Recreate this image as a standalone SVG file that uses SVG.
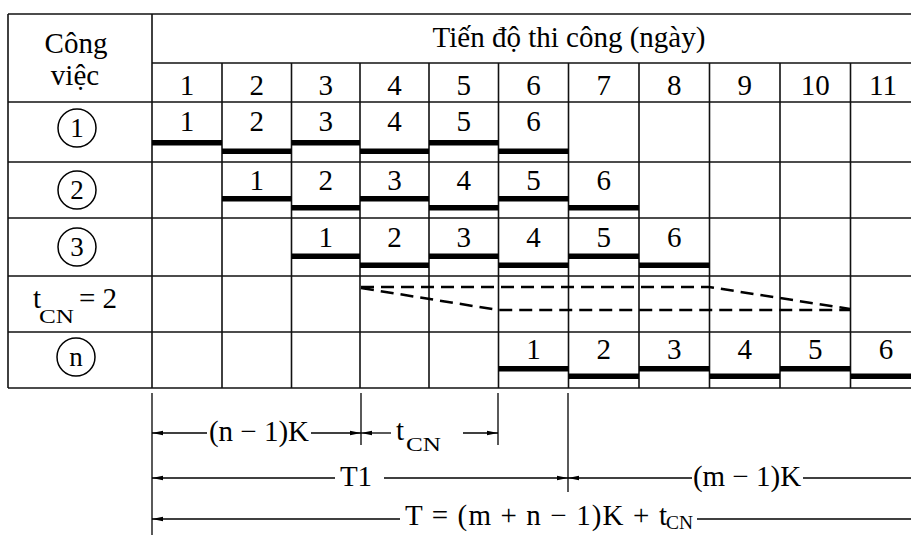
<svg xmlns="http://www.w3.org/2000/svg" width="911" height="535" viewBox="0 0 911 535">
<defs>
<style>
.grid{stroke:#111;stroke-width:1.6;fill:none}
.bar{fill:#000}
.t{font-family:"Liberation Serif","Times New Roman",serif;font-size:29px;fill:#000;text-anchor:middle}
.s{font-family:"Liberation Serif","Times New Roman",serif;font-size:19px;fill:#000}
.st{text-anchor:start}
.lbl{font-size:27px}
.circ{fill:none;stroke:#000;stroke-width:1.5}
.dash{stroke:#000;stroke-width:2.5;stroke-dasharray:13 7;fill:none}
.dim{stroke:#000;stroke-width:1.3;fill:none}
</style>
<marker id="ae" markerWidth="12" markerHeight="6" refX="11" refY="3" orient="auto" markerUnits="userSpaceOnUse">
<path d="M0,0.8 L11,3 L0,5.2 Z" fill="#000"/>
</marker>
<marker id="as" markerWidth="12" markerHeight="6" refX="1" refY="3" orient="auto" markerUnits="userSpaceOnUse">
<path d="M12,0.8 L1,3 L12,5.2 Z" fill="#000"/>
</marker>
</defs>
<rect width="911" height="535" fill="#fff"/>

<g id="grid" class="grid">
<line x1="8" y1="14" x2="911" y2="14"/>
<line x1="152" y1="63" x2="911" y2="63"/>
<line x1="8" y1="102" x2="911" y2="102"/>
<line x1="8" y1="162" x2="911" y2="162"/>
<line x1="8" y1="218" x2="911" y2="218"/>
<line x1="8" y1="276" x2="911" y2="276"/>
<line x1="8" y1="332" x2="911" y2="332"/>
<line x1="8" y1="388" x2="911" y2="388"/>
<line x1="8" y1="14" x2="8" y2="388"/>
<line x1="152" y1="14" x2="152" y2="388"/>
<line x1="222" y1="63" x2="222" y2="388"/>
<line x1="291.5" y1="63" x2="291.5" y2="388"/>
<line x1="360" y1="63" x2="360" y2="388"/>
<line x1="429" y1="63" x2="429" y2="388"/>
<line x1="498.5" y1="63" x2="498.5" y2="388"/>
<line x1="568.5" y1="63" x2="568.5" y2="388"/>
<line x1="639" y1="63" x2="639" y2="388"/>
<line x1="709.5" y1="63" x2="709.5" y2="388"/>
<line x1="780" y1="63" x2="780" y2="388"/>
<line x1="850.5" y1="63" x2="850.5" y2="388"/>
</g>

<g id="header">
<text class="t" x="76" y="53" font-size="30">Công</text>
<text class="t" x="75" y="85" font-size="30">việc</text>
<text class="t" x="569" y="47" font-size="30">Tiến độ thi công (ngày)</text>
<text class="t" x="187" y="95">1</text>
<text class="t" x="256.8" y="95">2</text>
<text class="t" x="325.8" y="95">3</text>
<text class="t" x="394.5" y="95">4</text>
<text class="t" x="463.8" y="95">5</text>
<text class="t" x="533.5" y="95">6</text>
<text class="t" x="603.8" y="95">7</text>
<text class="t" x="674.3" y="95">8</text>
<text class="t" x="744.8" y="95">9</text>
<text class="t" x="815.3" y="95">10</text>
<text class="t" x="883" y="95">11</text>
</g>

<g id="row1">
<circle class="circ" cx="77" cy="128" r="19"/>
<text class="t lbl" x="77" y="137">1</text>
<text class="t" x="187" y="131">1</text>
<text class="t" x="256.8" y="131">2</text>
<text class="t" x="325.8" y="131">3</text>
<text class="t" x="394.5" y="131">4</text>
<text class="t" x="463.8" y="131">5</text>
<text class="t" x="533.5" y="131">6</text>
<rect class="bar" x="152" y="140" width="70" height="5.5"/>
<rect class="bar" x="222" y="148.5" width="69.5" height="5.5"/>
<rect class="bar" x="291.5" y="140" width="68.5" height="5.5"/>
<rect class="bar" x="360" y="148.5" width="69" height="5.5"/>
<rect class="bar" x="429" y="140" width="69.5" height="5.5"/>
<rect class="bar" x="498.5" y="148.5" width="70" height="5.5"/>
</g>

<g id="row2">
<circle class="circ" cx="77" cy="190" r="19"/>
<text class="t lbl" x="77" y="199">2</text>
<text class="t" x="256.8" y="190">1</text>
<text class="t" x="325.8" y="190">2</text>
<text class="t" x="394.5" y="190">3</text>
<text class="t" x="463.8" y="190">4</text>
<text class="t" x="533.5" y="190">5</text>
<text class="t" x="603.8" y="190">6</text>
<rect class="bar" x="222" y="196" width="69.5" height="5.5"/>
<rect class="bar" x="291.5" y="205" width="68.5" height="5.5"/>
<rect class="bar" x="360" y="196" width="69" height="5.5"/>
<rect class="bar" x="429" y="205" width="69.5" height="5.5"/>
<rect class="bar" x="498.5" y="196" width="70" height="5.5"/>
<rect class="bar" x="568.5" y="205" width="70.5" height="5.5"/>
</g>

<g id="row3">
<circle class="circ" cx="77" cy="247" r="19"/>
<text class="t lbl" x="77" y="256">3</text>
<text class="t" x="325.8" y="247">1</text>
<text class="t" x="394.5" y="247">2</text>
<text class="t" x="463.8" y="247">3</text>
<text class="t" x="533.5" y="247">4</text>
<text class="t" x="603.8" y="247">5</text>
<text class="t" x="674.3" y="247">6</text>
<rect class="bar" x="291.5" y="253.5" width="68.5" height="5.5"/>
<rect class="bar" x="360" y="262.5" width="69" height="5.5"/>
<rect class="bar" x="429" y="253.5" width="69.5" height="5.5"/>
<rect class="bar" x="498.5" y="262.5" width="70" height="5.5"/>
<rect class="bar" x="568.5" y="253.5" width="70.5" height="5.5"/>
<rect class="bar" x="639" y="262.5" width="70.5" height="5.5"/>
</g>

<g id="rowTCN">
<text class="t st" x="33" y="308" font-size="30">t</text>
<text class="s" x="39" y="323" textLength="35" lengthAdjust="spacingAndGlyphs">CN</text>
<text class="t st" x="79" y="308" font-size="30">= 2</text>
<polyline class="dash" points="361,287 709,287 850,309"/>
<polyline class="dash" points="361,288 498,310 850,310"/>
</g>

<g id="rowN">
<circle class="circ" cx="76" cy="357" r="19"/>
<text class="t lbl" x="76" y="366">n</text>
<text class="t" x="533.5" y="359">1</text>
<text class="t" x="603.8" y="359">2</text>
<text class="t" x="674.3" y="359">3</text>
<text class="t" x="744.8" y="359">4</text>
<text class="t" x="815.3" y="359">5</text>
<text class="t" x="886" y="359">6</text>
<rect class="bar" x="498.5" y="366" width="70" height="5.5"/>
<rect class="bar" x="568.5" y="373.5" width="70.5" height="5.5"/>
<rect class="bar" x="639" y="366" width="70.5" height="5.5"/>
<rect class="bar" x="709.5" y="373.5" width="70.5" height="5.5"/>
<rect class="bar" x="780" y="366" width="70.5" height="5.5"/>
<rect class="bar" x="850.5" y="373.5" width="60.5" height="5.5"/>
</g>

<g id="connectors">
<line class="dim" x1="152" y1="393" x2="152" y2="535"/>
<line class="dim" x1="361" y1="393" x2="361" y2="445"/>
<line class="dim" x1="498" y1="393" x2="498" y2="445"/>
<line class="dim" x1="568" y1="393" x2="568" y2="492"/>
<line class="dim" x1="152" y1="433" x2="207" y2="433" marker-start="url(#as)"/>
<line class="dim" x1="311" y1="433" x2="361" y2="433" marker-end="url(#ae)"/>
<line class="dim" x1="361" y1="433" x2="391" y2="433" marker-start="url(#as)"/>
<line class="dim" x1="463" y1="433" x2="498" y2="433" marker-end="url(#ae)"/>
<line class="dim" x1="152" y1="478" x2="335" y2="478" marker-start="url(#as)"/>
<line class="dim" x1="384" y1="478" x2="568" y2="478" marker-end="url(#ae)"/>
<line class="dim" x1="568" y1="478" x2="692" y2="478" marker-start="url(#as)"/>
<line class="dim" x1="803" y1="478" x2="911" y2="478"/>
<line class="dim" x1="152" y1="519" x2="400" y2="519" marker-start="url(#as)"/>
<line class="dim" x1="697" y1="519" x2="911" y2="519"/>
</g>

<g id="dimension-labels">
<text class="t" x="259" y="441" font-size="28">(n − 1)K</text>
<text class="t st" x="396" y="440" font-size="28">t</text>
<text class="s" x="406" y="451" textLength="35" lengthAdjust="spacingAndGlyphs">CN</text>
<text class="t" x="356" y="486" font-size="28">T1</text>
<text class="t" x="747" y="486" font-size="28">(m − 1)K</text>
<text class="t st" x="405" y="525" font-size="28" textLength="262" lengthAdjust="spacing">T = (m + n − 1)K + t</text>
<text class="s" x="666" y="529" font-size="14" textLength="27" lengthAdjust="spacingAndGlyphs">CN</text>
</g>
</svg>
